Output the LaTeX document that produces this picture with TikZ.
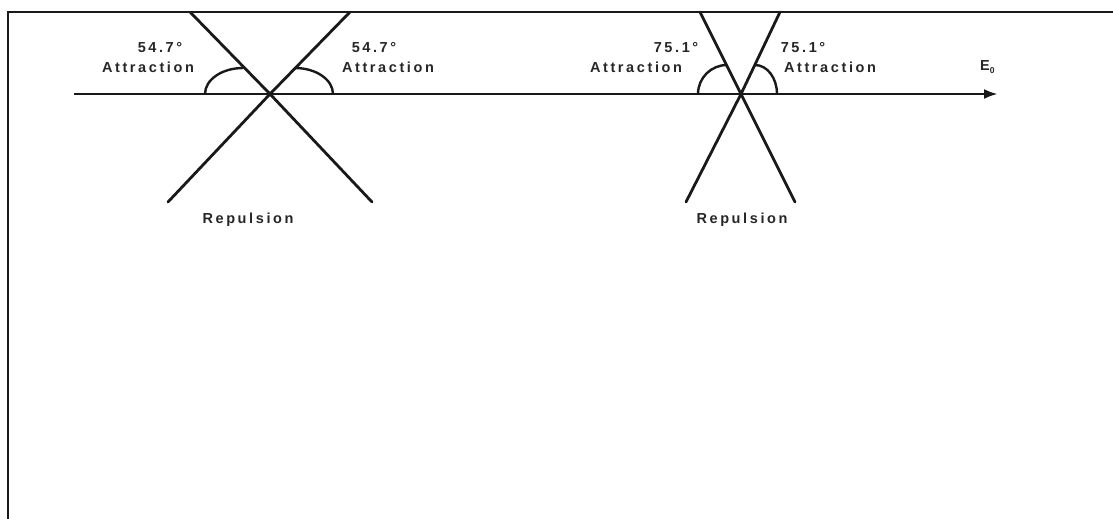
\documentclass[tikz,border=0pt]{standalone}
\usepackage{fontspec}
\setmainfont{Liberation Sans}
\newfontfamily\lblfont{Liberation Sans}[LetterSpace=18]
\usepackage{tikz}
\usetikzlibrary{arrows.meta, calc}

\begin{document}
\begin{tikzpicture}[
  x=1pt, y=-1pt,
  frameline/.style = {line width=2.8pt, color=black!90},
  axisline/.style  = {line width=2.8pt, color=black!90, -{Latex[length=14pt, width=10pt]}},
  dirline/.style   = {line width=2.8pt, color=black!90, line cap=round},
  anglearc/.style  = {line width=2.4pt, color=black!90},
  lbl/.style       = {font=\lblfont\bfseries\fontsize{14.5}{16}\selectfont,
                      anchor=base, inner sep=0pt, text=black!85},
]
\useasboundingbox (0,0) rectangle (1113,519);

%% Frame
\draw[frameline] (8,519) -- (8,12) -- (1113,12);

%% Field axis
\coordinate (ax0) at (74,94);
\coordinate (ax1) at (998,94);
\draw[axisline] (ax0) -- (ax1);
\node[lbl, anchor=base west] (efield) at (980,70.5)
  {E\raisebox{-3pt}{\fontsize{8.5}{9}\selectfont 0}};

%% Crossing points and line ends
\coordinate (c1)  at (270,94);
\coordinate (a1t) at (190,12);  \coordinate (a1b) at (372,202);
\coordinate (b1t) at (350,12);  \coordinate (b1b) at (168,202);
\coordinate (c2)  at (741,94);
\coordinate (a2t) at (700,12);  \coordinate (a2b) at (795,202);
\coordinate (b2t) at (780,12);  \coordinate (b2b) at (686,202);

\foreach \t/\c/\b in {a1t/c1/a1b, b1t/c1/b1b, a2t/c2/a2b, b2t/c2/b2b}
  \draw[dirline] (\t) -- (\c) -- (\b);

%% Angle arcs
\draw[anglearc] (205,94) arc[start angle=180, end angle=90, x radius=38pt, y radius=26pt];
\draw[anglearc] (333,94) arc[start angle=0,   end angle=90, x radius=38pt, y radius=26pt];
\draw[anglearc] (698,94) arc[start angle=180, end angle=90, x radius=29pt, y radius=29pt];
\draw[anglearc] (777,94) arc[start angle=0,   end angle=90, x radius=22pt, y radius=29pt];

%% Labels
\node[lbl] (angL1) at (160,52.5) {54.7°};
\node[lbl] (attL1) at (148,73)   {Attraction};
\node[lbl] (angR1) at (374,52.5) {54.7°};
\node[lbl] (attR1) at (388,73)   {Attraction};
\node[lbl] (rep1)  at (248,223.5){Repulsion};

\node[lbl] (angL2) at (676,52.5) {75.1°};
\node[lbl] (attL2) at (636,73)   {Attraction};
\node[lbl] (angR2) at (803,52.5) {75.1°};
\node[lbl] (attR2) at (830,73)   {Attraction};
\node[lbl] (rep2)  at (742,223.5){Repulsion};

\end{tikzpicture}
\end{document}
